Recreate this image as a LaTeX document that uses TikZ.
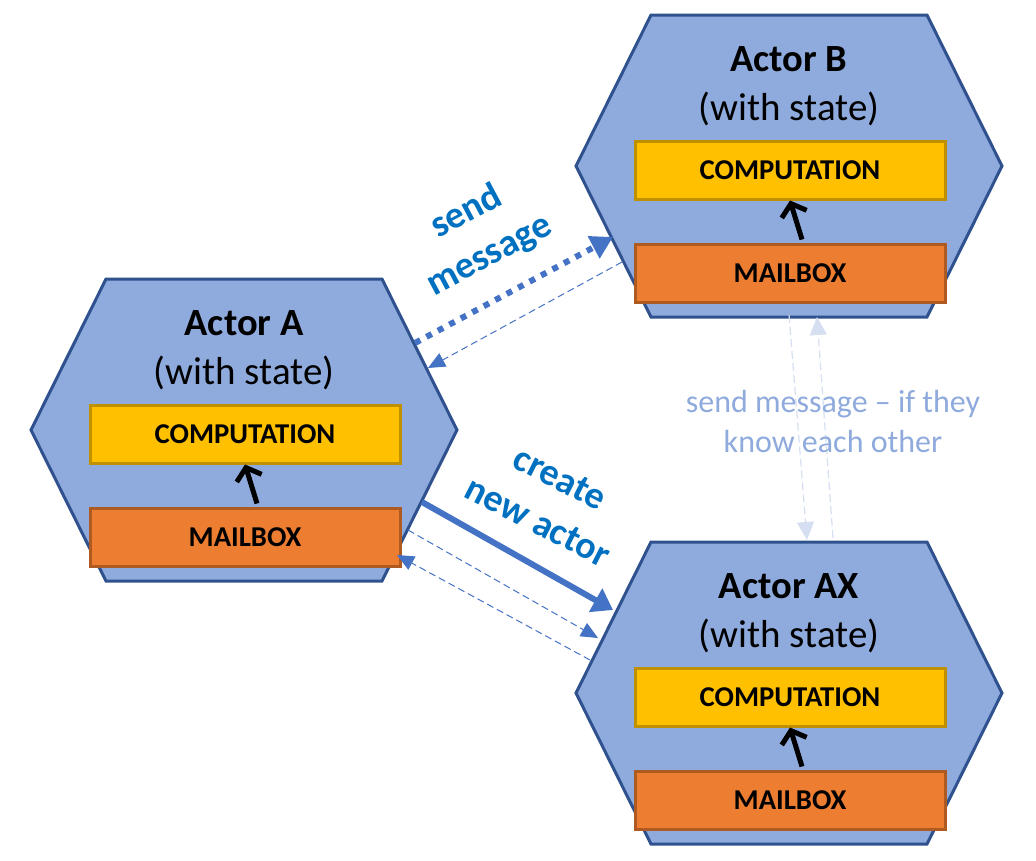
\documentclass[tikz,border=0pt]{standalone}
\usepackage{fontspec}
\setmainfont{Carlito}
\usetikzlibrary{arrows.meta}

\definecolor{hexfill}{HTML}{8FAADC}
\definecolor{hexline}{HTML}{2F528F}
\definecolor{compfill}{HTML}{FFC000}
\definecolor{compline}{HTML}{BF9000}
\definecolor{mailfill}{HTML}{ED7D31}
\definecolor{mailline}{HTML}{AE5A21}
\definecolor{msgblue}{HTML}{4472C4}
\definecolor{labelblue}{HTML}{0070C0}
\definecolor{paleblue}{HTML}{D5DFF1}
\definecolor{softblue}{HTML}{8FAADC}

\tikzset{
    hexagon/.style={draw=hexline, fill=hexfill, line width=3pt},
    actortitle/.style={font=\fontsize{38.5}{46}\selectfont\bfseries},
    statetext/.style={font=\fontsize{39}{46}\selectfont},
    compbox/.style={draw=compline, fill=compfill, line width=3pt, minimum width=310pt, minimum height=58pt, font=\fontsize{28.7}{34}\selectfont\bfseries},
    mailbox/.style={draw=mailline, fill=mailfill, line width=3pt, minimum width=310pt, minimum height=58pt, font=\fontsize{28.7}{34}\selectfont\bfseries},
    feedarrow/.style={line width=5pt, -{Straight Barb[length=11pt, width=26pt]}},
    sendarrow/.style={draw=msgblue, line width=6pt, dash pattern=on 6pt off 7pt, -{Triangle[length=22pt, width=24pt]}},
    replyarrow/.style={draw=msgblue, line width=1pt, dash pattern=on 7pt off 4pt, -{Triangle[length=17pt, width=15pt]}},
    createarrow/.style={draw=msgblue, line width=6pt, -{Triangle[length=20pt, width=26pt]}},
    palearrow/.style={draw=paleblue, line width=1.2pt, dash pattern=on 8pt off 4pt, -{Triangle[length=18pt, width=17pt]}},
    msglabel/.style={text=labelblue, align=center, font=\fontsize{38}{49}\selectfont\bfseries},
    palelabel/.style={text=softblue, align=center, font=\fontsize{32}{40}\selectfont}
}

\begin{document}
\begin{tikzpicture}[x=1pt, y=-1pt]

                \useasboundingbox (0, 0) rectangle (1036, 860);

                % Draw the actors (hexagon, name, computation and mailbox)
                \foreach \id/\cx/\cy/\actor in {A/244/430/Actor A, B/789/166/Actor B, AX/789/693/Actor AX} {
                    \draw[hexagon] (\cx-213, \cy) -- (\cx-138, \cy-151) -- (\cx+138, \cy-151) -- (\cx+213, \cy) -- (\cx+138, \cy+151) -- (\cx-138, \cy+151) -- cycle; % Draw actor
                    \node[actortitle] (title\id) at (\cx, \cy-107) {\actor};
                    \node[statetext] (state\id) at (\cx, \cy-57) {(with state)};
                    \node[compbox] (comp\id) at (\cx+1, \cy+4) {COMPUTATION};
                    \node[mailbox] (mail\id) at (\cx+1, \cy+107) {MAILBOX};
                    \draw[feedarrow] ([xshift=12pt, yshift=3pt]mail\id.north) -- (comp\id.south); % mailbox feeds computation
                }

                % End points of the messages on the actor borders
                \coordinate (sendA) at (415, 343);
                \coordinate (sendB) at (613, 237);
                \coordinate (replyB) at (622, 262);
                \coordinate (replyA) at (428, 368);
                \coordinate (createA) at (422, 502);
                \coordinate (createAX) at (613, 610);
                \coordinate (toAXfromA) at (408, 530);
                \coordinate (toAX) at (598, 638);
                \coordinate (fromAX) at (590, 660);
                \coordinate (toA) at (397, 555);
                \coordinate (downB) at (789, 315);
                \coordinate (downAX) at (807, 540);
                \coordinate (upAX) at (833, 538);
                \coordinate (upB) at (817, 317);

                % Messages between A and B
                \draw[sendarrow] (sendA) -- (sendB);
                \draw[replyarrow] (replyB) -- (replyA);
                \node[msglabel, rotate=28] (sendlabel) at (478, 234) {send\\message};

                % A creates AX
                \draw[createarrow] (createA) -- (createAX);
                \draw[replyarrow] (toAXfromA) -- (toAX);
                \draw[replyarrow] (fromAX) -- (toA);
                \node[msglabel, rotate=-27] (createlabel) at (549, 500) {create\\new actor};

                % B and AX, only when known
                \draw[palearrow] (downB) -- (downAX);
                \draw[palearrow] (upAX) -- (upB);
                \node[palelabel] (knowlabel) at (833, 421) {send message – if they\\know each other};

\end{tikzpicture}
\end{document}
